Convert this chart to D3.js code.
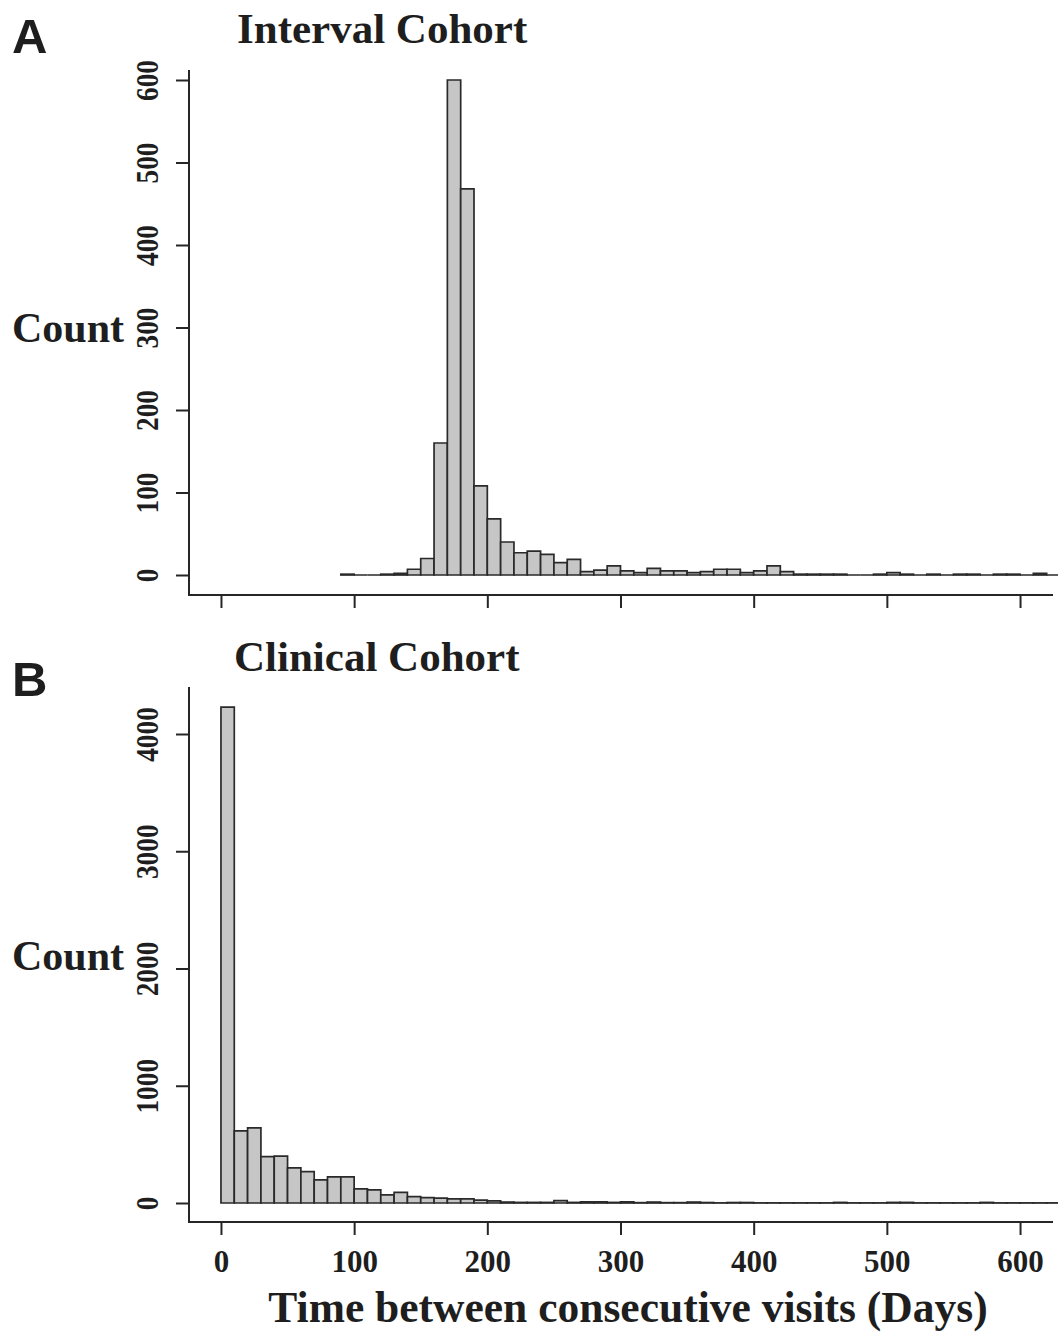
<!DOCTYPE html>
<html>
<head>
<meta charset="utf-8">
<script src="https://cdnjs.cloudflare.com/ajax/libs/d3/7.8.5/d3.min.js"></script>
<style>
  body { margin: 0; background: #fff; }
  text { font-family: "Liberation Serif", "Times New Roman", serif; font-weight: bold; fill: #1e1e1e; }
  .panel-letter { font-family: "Liberation Sans", Arial, sans-serif; }
</style>
</head>
<body>
<script>
// histogram counts, 10-day bins
var binWidth = 10;

// Interval cohort: bins start at 90 days
var startA = 90;
var countsA = [1, 0, 0, 1, 2, 7, 20, 160, 600, 468, 108, 68, 40, 27, 29, 25, 15, 19, 4, 6,
               11, 5, 3, 8, 5, 5, 3, 4, 7, 7, 3, 5, 11, 4, 1, 1, 1, 1, 0, 0,
               1, 3, 1, 0, 1, 0, 1, 1, 0, 1, 1, 0, 2, 0];

// Clinical cohort: bins start at 0 days
var startB = 0;
var countsB = [4230, 615, 640, 395, 400, 300, 268, 198, 222, 222, 120, 112, 70, 90, 55, 45, 42, 35, 35, 25,
               18, 8, 5, 5, 5, 20, 5, 10, 10, 5, 10, 3, 8, 3, 3, 8, 4, 1, 4, 4,
               1, 1, 1, 1, 1, 1, 5, 1, 1, 1, 5, 5, 1, 1, 1, 1, 1, 5, 1, 1,
               1, 1, 1];

var xTicks = [0, 100, 200, 300, 400, 500, 600];
var yTicksA = [0, 100, 200, 300, 400, 500, 600];
var yTicksB = [0, 1000, 2000, 3000, 4000];

var W = 1058, H = 1334;
var left = 189, right = 1053;

var svg = d3.select("body").append("svg")
    .attr("width", W)
    .attr("height", H);

// shared x scale, R style 4% padding
var x = d3.scaleLinear().domain([-24, 624]).range([left, left + 863]);

function drawPanel(p) {
  var y = d3.scaleLinear().domain(p.ydom).range(p.yrange);
  var g = svg.append("g");

  var bins = p.counts.map(function (c, i) {
    return { x0: p.start + i * binWidth, x1: p.start + (i + 1) * binWidth, n: c };
  });

  // bars as closed paths so empty bins still show as a flat line (like R hist)
  g.selectAll("path.bar")
    .data(bins)
    .enter()
    .append("path")
    .attr("class", "bar")
    .attr("d", function (d) {
      return "M" + x(d.x0) + "," + y(0) + "V" + y(d.n) + "H" + x(d.x1) + "V" + y(0) + "Z";
    })
    .attr("fill", "#c6c6c6")
    .attr("stroke", "#2a2a2a")
    .attr("stroke-width", 1.7);

  // L shaped box
  g.append("path")
    .attr("d", "M" + left + "," + p.top + "V" + p.bottom + "H" + right)
    .attr("fill", "none")
    .attr("stroke", "#262626")
    .attr("stroke-width", 2);

  // y axis
  var ya = g.append("g")
    .attr("transform", "translate(" + left + ",0)")
    .call(d3.axisLeft(y).tickValues(p.yticks).tickSize(13).tickFormat(d3.format("d")));
  ya.select(".domain").remove();
  ya.selectAll("line").attr("stroke", "#262626").attr("stroke-width", 2);
  ya.selectAll("text")
    .attr("x", 0)
    .attr("y", -31)
    .attr("dy", 0)
    .attr("text-anchor", "middle")
    .attr("transform", "rotate(-90) scale(0.88,1)")
    .style("font-size", "31px")
    .style("font-family", "'Liberation Serif', serif")
    .attr("fill", "#1e1e1e");

  // x axis
  var xa = g.append("g")
    .attr("transform", "translate(0," + p.bottom + ")")
    .call(d3.axisBottom(x).tickValues(xTicks).tickSize(13).tickFormat(d3.format("d")));
  xa.select(".domain").remove();
  xa.selectAll("line").attr("stroke", "#262626").attr("stroke-width", 2);
  if (p.xlabels) {
    xa.selectAll("text")
      .attr("y", 50)
      .attr("dy", 0)
      .style("font-size", "31px")
      .style("font-family", "'Liberation Serif', serif")
      .attr("fill", "#1e1e1e");
  } else {
    xa.selectAll("text").remove();
  }

  // titles
  g.append("text")
    .attr("x", p.titleX).attr("y", p.titleY)
    .style("font-size", "43px")
    .text(p.title);
  g.append("text")
    .attr("class", "panel-letter")
    .attr("x", 12).attr("y", p.letterY)
    .style("font-size", "49px")
    .text(p.letter);
  g.append("text")
    .attr("x", 12).attr("y", p.countY)
    .style("font-size", "42px")
    .text("Count");
}

drawPanel({
  counts: countsA, start: startA,
  ydom: [0, 600], yrange: [575, 80], top: 70, bottom: 595,
  yticks: yTicksA, xlabels: false,
  title: "Interval Cohort", titleX: 237, titleY: 43,
  letter: "A", letterY: 53, countY: 342
});

drawPanel({
  counts: countsB, start: startB,
  ydom: [0, 4000], yrange: [1203, 734], top: 687, bottom: 1222,
  yticks: yTicksB, xlabels: true,
  title: "Clinical Cohort", titleX: 234, titleY: 671,
  letter: "B", letterY: 696, countY: 970
});

// shared x axis title
svg.append("text")
  .attr("x", 628).attr("y", 1322)
  .attr("text-anchor", "middle")
  .style("font-size", "43.5px")
  .text("Time between consecutive visits (Days)");
</script>
</body>
</html>
